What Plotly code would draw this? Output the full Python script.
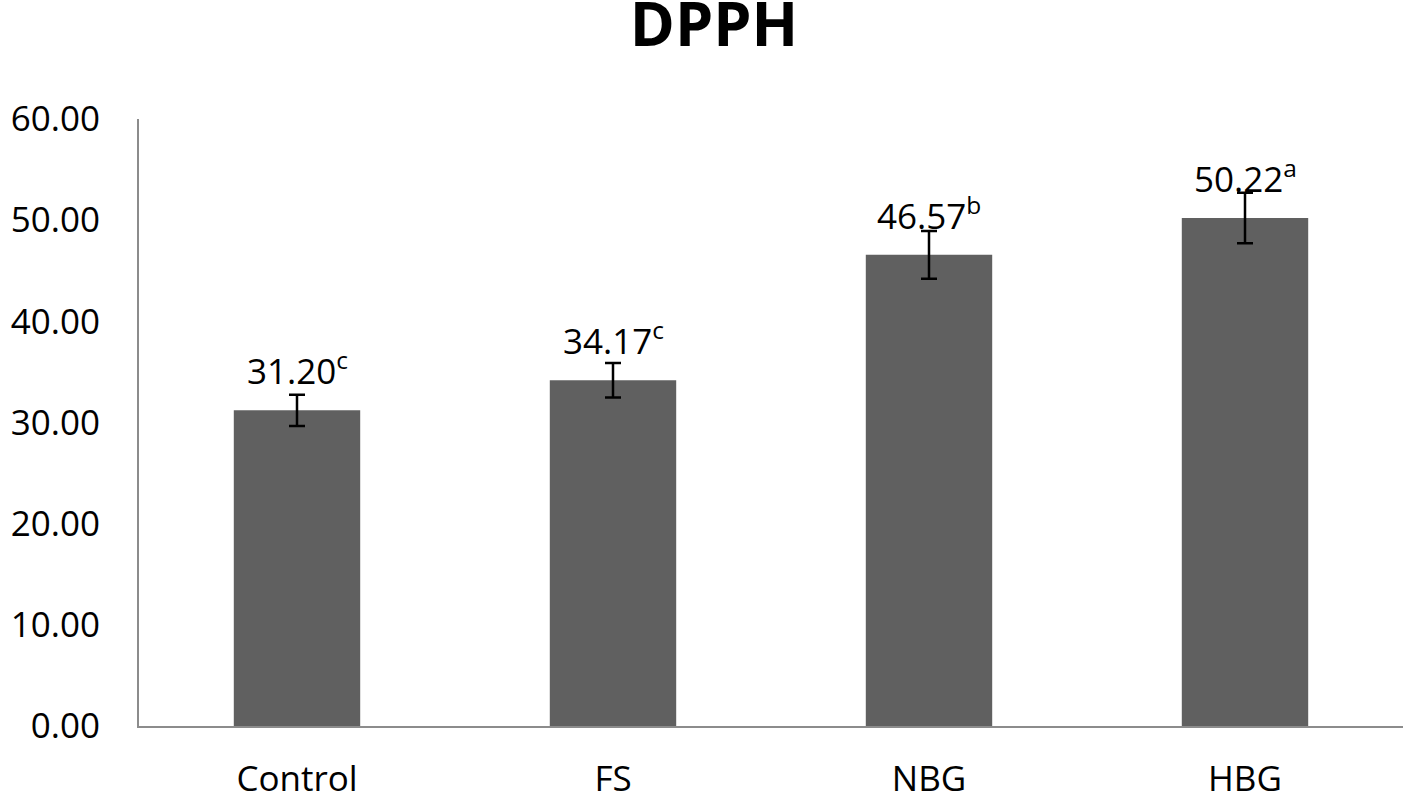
import plotly.graph_objects as go

categories = ["Control", "FS", "NBG", "HBG"]
values = [31.20, 34.17, 46.57, 50.22]
errors = [1.55, 1.7, 2.35, 2.5]
letters = ["c", "c", "b", "a"]
tick_vals = [0, 10, 20, 30, 40, 50, 60]

FONT = "Open Sans"

W, H = 1411, 802

fig = go.Figure()
fig.add_trace(go.Bar(
    x=categories, y=values,
    marker=dict(color="#606060", line=dict(width=0)),
    error_y=dict(type="data", array=errors, visible=True, color="black", thickness=2.5, width=8),
    width=0.4,
    hoverinfo="skip",
))

for c, v, l in zip(categories, values, letters):
    fig.add_annotation(
        x=c, y=v, xref="x", yref="y",
        text=f"{v:.2f}<sup>{l}</sup>",
        showarrow=False, yanchor="bottom", yshift=14,
        font=dict(family=FONT, size=35, color="black"),
    )

fig.update_layout(
    width=W, height=H,
    margin=dict(l=139, r=8, t=119, b=76, autoexpand=False),
    plot_bgcolor="white", paper_bgcolor="white",
    showlegend=False,
    title=dict(text="<b>DPPH</b>", x=0.506, xanchor="center", y=1 - 25 / H, yanchor="middle",
               font=dict(family=FONT, size=61, color="black")),
    font=dict(family=FONT, color="black"),
)
fig.update_yaxes(
    range=[0, 60], tickvals=tick_vals, tickformat=".2f", automargin=False,
    showgrid=False, zeroline=False, showline=True, linecolor="#8c8c8c", linewidth=2,
    ticks="", ticklabelstandoff=30,
    tickfont=dict(family=FONT, size=35, color="black"),
)
fig.update_xaxes(
    automargin=False,
    showgrid=False, showline=True, linecolor="#8c8c8c", linewidth=2,
    ticks="", ticklabelstandoff=21,
    tickfont=dict(family=FONT, size=35, color="black"),
)

fig.write_html(
    "out.html",
    config={"displayModeBar": False},
    post_script="document.body.style.margin='0';document.body.style.overflow='hidden';",
)
